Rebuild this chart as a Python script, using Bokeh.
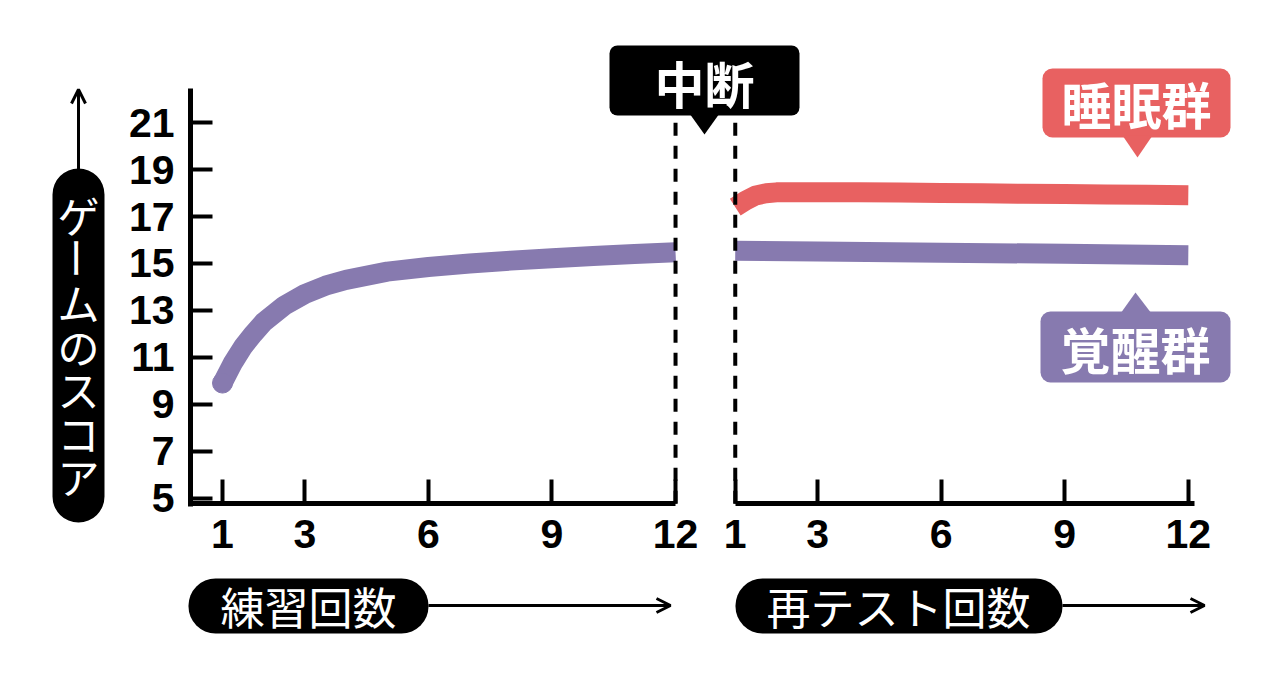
import math
from bokeh.plotting import figure
from bokeh.models import (Range1d, FixedTicker, LinearAxis, CustomJSTickFormatter, Label,
                          BoxAnnotation, PolyAnnotation, Arrow, OpenHead)
from bokeh.embed import file_html
from bokeh.resources import INLINE

# practice sessions (left panel), awake group only
practice_x = [1, 1.25, 1.5, 1.75, 2, 2.5, 3, 3.5, 4, 5, 6, 7, 8, 9, 10, 11, 12]
practice_awake = [9.9, 10.75, 11.45, 12.0, 12.5, 13.2, 13.7, 14.05, 14.3, 14.65, 14.85, 15.0,
                  15.12, 15.22, 15.32, 15.4, 15.48]

# retest sessions after the break (right panel)
retest_x = [1, 1.25, 1.5, 1.75, 2, 3, 4, 5, 6, 7, 8, 9, 10, 11, 12]
retest_sleep = [17.4, 17.68, 17.9, 17.99, 18.03, 18.04, 18.03, 18.02, 18.0, 17.99, 17.97,
                17.96, 17.94, 17.93, 17.91]
retest_wake_x = [1, 3, 6, 9, 12]
retest_awake = [15.54, 15.51, 15.46, 15.41, 15.35]

x_ticks = [1, 3, 6, 9, 12]
y_ticks = [5, 7, 9, 11, 13, 15, 17, 19, 21]

y_title = "ゲームのスコア"
practice_title = "練習回数"
retest_title = "再テスト回数"
break_title = "中断"
sleep_name = "睡眠群"
wake_name = "覚醒群"

PURPLE = "#877aaf"
RED = "#e86161"
CJK = "Noto Sans CJK JP"
NUM_FONT = "Liberation Sans"

OFFSET = 12.45   # retest panel sits to the right of the practice panel
BASE_Y = 4.76    # height of the x axis line

# the frame fills the whole canvas, axes are pinned inside it
W, H = 1278, 680
X0, X1 = -4.39, 26.64
Y0, Y1 = -2.78, 26.21
SX = W / (X1 - X0)
SY = H / (Y1 - Y0)


def dx(px):
    return X0 + px / SX


def dy(py):
    return Y1 - py / SY


p = figure(width=W, height=H, x_range=Range1d(X0, X1), y_range=Range1d(Y0, Y1),
           output_backend="svg", toolbar_location=None, min_border=0)
p.outline_line_color = None
p.grid.visible = False


def style_axis(ax, tick_len):
    ax.axis_line_width = 5
    ax.axis_line_color = "black"
    ax.major_tick_in = tick_len
    ax.major_tick_out = 0
    ax.major_tick_line_width = 4
    ax.major_tick_line_color = "black"
    ax.minor_tick_line_color = None
    ax.major_label_text_font = NUM_FONT
    ax.major_label_text_font_size = "41px"
    ax.major_label_text_font_style = "bold"
    ax.major_label_text_color = "black"


ya = p.yaxis[0]
ya.fixed_location = dx(190)
ya.bounds = (dy(506), dy(88))
ya.ticker = FixedTicker(ticks=y_ticks)
style_axis(ya, 22)
ya.major_label_standoff = 16

xa = p.xaxis[0]
xa.fixed_location = BASE_Y
xa.bounds = (dx(190), practice_x[-1])
xa.ticker = FixedTicker(ticks=x_ticks)
style_axis(xa, 24)
xa.major_label_standoff = 16

xb = LinearAxis(fixed_location=BASE_Y, bounds=(retest_x[0] + OFFSET, retest_x[-1] + OFFSET + 0.15),
                ticker=FixedTicker(ticks=[t + OFFSET for t in x_ticks]),
                formatter=CustomJSTickFormatter(args=dict(off=OFFSET),
                                                code="return (tick - off).toFixed(0)"))
style_axis(xb, 24)
xb.major_label_standoff = 16
p.add_layout(xb, "below")

# curves
p.line([x + OFFSET for x in retest_x], retest_sleep, line_width=20, color=RED, line_join="round")
p.line(practice_x, practice_awake, line_width=20, color=PURPLE, line_join="round")
p.scatter(practice_x[:1], practice_awake[:1], size=20, color=PURPLE)
p.line([x + OFFSET for x in retest_wake_x], retest_awake, line_width=20, color=PURPLE,
       line_join="round")

# break markers
for loc in (practice_x[-1], retest_x[0] + OFFSET):
    p.segment(x0=[loc], y0=[BASE_Y], x1=[loc], y1=[dy(115)], line_color="black",
              line_width=4, line_dash="13 10")


def box(l, t, r, b, color, radius):
    p.add_layout(BoxAnnotation(left=dx(l), right=dx(r), top=dy(t), bottom=dy(b),
                               fill_color=color, fill_alpha=1, line_color=None,
                               border_radius=radius, level="annotation"))


def tri(pts, color):
    p.add_layout(PolyAnnotation(xs=[dx(a) for a, b in pts], ys=[dy(b) for a, b in pts],
                                fill_color=color, fill_alpha=1, line_color=None))


def text(s, x, y, size, bold=False, angle=0):
    p.add_layout(Label(x=dx(x), y=dy(y), text=s, text_align="center", text_baseline="middle",
                       text_font=CJK, text_font_size=f"{size}px",
                       text_font_style="bold" if bold else "normal",
                       text_color="white", angle=angle))


def arrow(x0, y0, x1, y1):
    p.add_layout(Arrow(end=OpenHead(size=14, line_width=3, line_color="black"),
                       x_start=dx(x0), y_start=dy(y0), x_end=dx(x1), y_end=dy(y1),
                       line_width=3, line_color="black"))


# 中断 callout
box(609, 45, 799, 115, "black", 8)
tri([(689, 113), (719, 113), (704, 134)], "black")
text(break_title, 704, 81, 50, bold=True)

# group callouts
box(1042, 68, 1230, 137, RED, 10)
tri([(1122, 135), (1152, 135), (1137, 157)], RED)
text(sleep_name, 1136, 102, 50, bold=True)

box(1040, 311, 1230, 382, PURPLE, 10)
tri([(1120, 313), (1151, 313), (1135, 292)], PURPLE)
text(wake_name, 1135, 347, 50, bold=True)

# y axis title, written vertically
arrow(78, 170, 78, 89)
box(52, 168, 104, 522, "black", 26)
for i, ch in enumerate(y_title):
    text(ch, 78, 214 + i * 43.5, 42, angle=-math.pi / 2 if ch == "ー" else 0)

# x axis titles
arrow(428, 605, 670, 605)
box(188, 578, 428, 633, "black", 27)
text(practice_title, 308, 605, 44)

arrow(1062, 605, 1204, 605)
box(735, 578, 1062, 633, "black", 27)
text(retest_title, 898, 605, 44)

open("out.html", "w").write(file_html(p, INLINE))
